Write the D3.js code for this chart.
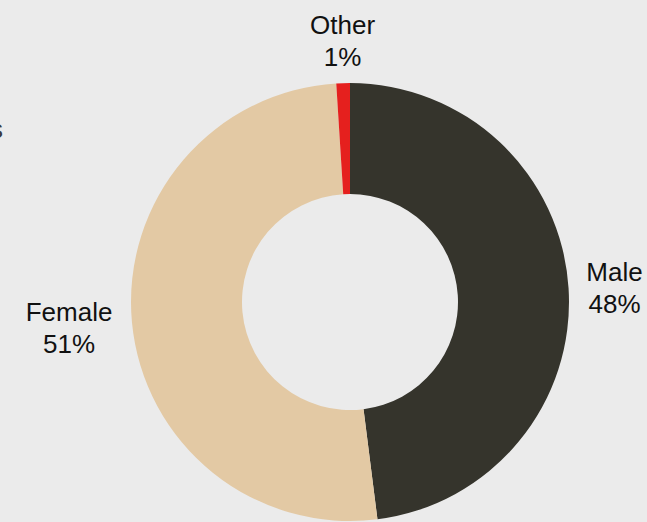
<!DOCTYPE html>
<html>
<head>
<meta charset="utf-8">
<script src="https://cdn.jsdelivr.net/npm/d3@7"></script>
<style>
  html, body { margin: 0; padding: 0; background: #ebebeb; overflow: hidden; }
  svg { display: block; }
  .lbl { font-family: "Liberation Sans", Arial, Helvetica, sans-serif; font-size: 26px; fill: #111; }
</style>
</head>
<body>
<svg id="svg" width="647" height="522"></svg>
<script>
const W = 647, H = 522;

// data
const categories = ["Male", "Female", "Other"];
const shares = [48, 51, 1];
const colors = ["#35342c", "#e3c9a4", "#e5201e"];

const cx = 350, cy = 302;
const outerR = 219, innerR = 108, labelR = 235;

var svg = d3.select('#svg');

svg.append('rect')
  .attr('width', W).attr('height', H)
  .attr('fill', '#ebebeb');

// cut off title glyph at the left edge
svg.append('text')
  .attr('class', 'lbl')
  .attr('x', -10)
  .attr('y', 138)
  .style('fill', '#3a3a3a')
  .text('s');

const chart = svg.append('g')
  .attr('transform', 'translate(' + cx + ',' + cy + ')');

const rows = categories.map((c, i) => ({ cat: c, v: shares[i], col: colors[i] }));

const pie = d3.pie().sort(null).value(d => d.v);
const arc = d3.arc().innerRadius(innerR).outerRadius(outerR);
const arcs = pie(rows);

chart.selectAll('path.slice')
  .data(arcs)
  .enter()
  .append('path')
  .attr('class', 'slice')
  .attr('d', arc)
  .attr('fill', d => d.data.col);

// labels outside the ring
const lab = chart.selectAll('g.lab')
  .data(arcs)
  .enter()
  .append('g')
  .attr('class', 'lab');

lab.each(function(d) {
  const a = (d.startAngle + d.endAngle) / 2;
  const x = labelR * Math.sin(a);
  const y = -labelR * Math.cos(a);
  let tx, y0;
  if (Math.abs(x) < 60) { tx = x; y0 = y - 33; }       // above the ring
  else if (x > 0) { tx = x + 30; y0 = y - 6; }
  else { tx = x - 47; y0 = y - 3; }
  const t = d3.select(this).append('text')
    .attr('class', 'lbl')
    .attr('text-anchor', 'middle');
  t.append('tspan').attr('x', tx).attr('y', y0).text(d.data.cat);
  t.append('tspan').attr('x', tx).attr('y', y0 + 32).text(d.data.v + '%');
});
</script>
</body>
</html>
